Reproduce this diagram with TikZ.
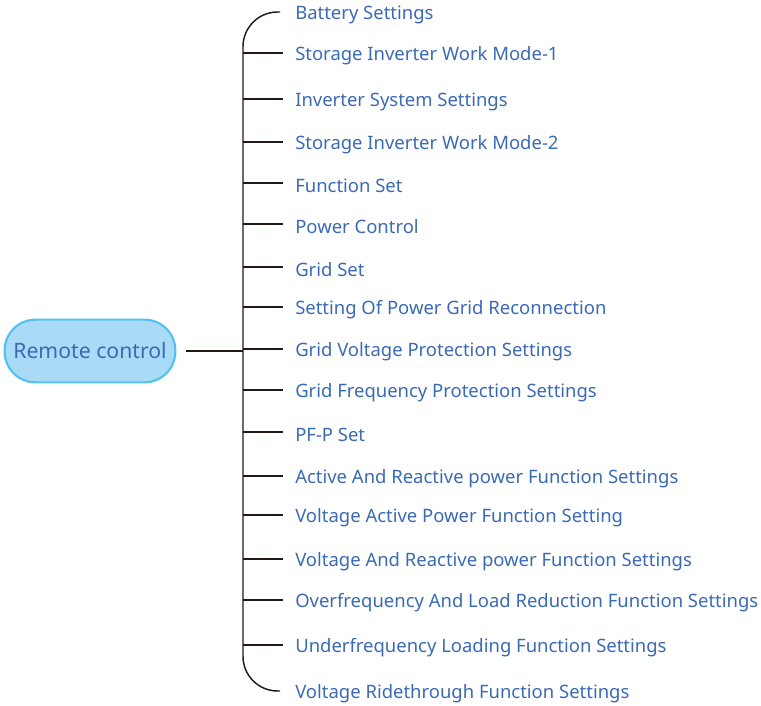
\documentclass[tikz,border=0pt]{standalone}
\usepackage{fontspec}
\setmainfont{Noto Sans}
\usetikzlibrary{positioning, calc}
\definecolor{itemblue}{HTML}{3A6AB4}
\definecolor{rootfill}{HTML}{A9DBF6}
\definecolor{rootline}{HTML}{55C1EE}
\definecolor{treeline}{HTML}{231815}

\begin{document}
\begin{tikzpicture}[x=0.75pt, y=-0.75pt,
    branch/.style={draw=treeline, line width=1.1pt},
    item/.style={anchor=west, inner xsep=9pt, inner ysep=0pt, text=itemblue,
                 font=\fontsize{13.85}{16}\selectfont},
    rootbox/.style={fill=rootfill, draw=rootline, line width=1.6pt, rounded corners=23pt,
                    minimum width=128pt, minimum height=47pt, text=itemblue,
                    font=\fontsize{15.9}{18}\selectfont}]
  \useasboundingbox (0,0) rectangle (761,706);
  \node[rootbox] (root) at (90,351) {Remote control};
  % spine with rounded ends
  \coordinate (top) at (280,12);
  \coordinate (bottom) at (280,691);
  \draw[branch, rounded corners=26pt] (top) -- (243,12) -- (243,691) -- (bottom);
  \draw[branch, shorten <=7pt] (root.east) -- (243,351);
  \foreach \y/\name/\txt in {
      12/bat/{Battery Settings},
      53/mode1/{Storage Inverter Work Mode-1},
      99/sys/{Inverter System Settings},
      142/mode2/{Storage Inverter Work Mode-2},
      183/func/{Function Set},
      224/power/{Power Control},
      267/grid/{Grid Set},
      307/recon/{Setting Of Power Grid Reconnection},
      349/volt/{Grid Voltage Protection Settings},
      390/freq/{Grid Frequency Protection Settings},
      432/pfp/{PF-P Set},
      476/actreact/{Active And Reactive power Function Settings},
      515/voltact/{Voltage Active Power Function Setting},
      559/voltreact/{Voltage And Reactive power Function Settings},
      600/overfreq/{Overfrequency And Load Reduction Function Settings},
      645/underfreq/{Underfrequency Loading Function Settings},
      691/ride/{Voltage Ridethrough Function Settings}} {
    \node[item] (\name) at (283,\y+2.5) {\txt};
    \ifnum\y>20 \ifnum\y<680
      \draw[branch] (243,\y) -- (283,\y);
    \fi\fi
  }
\end{tikzpicture}
\end{document}
